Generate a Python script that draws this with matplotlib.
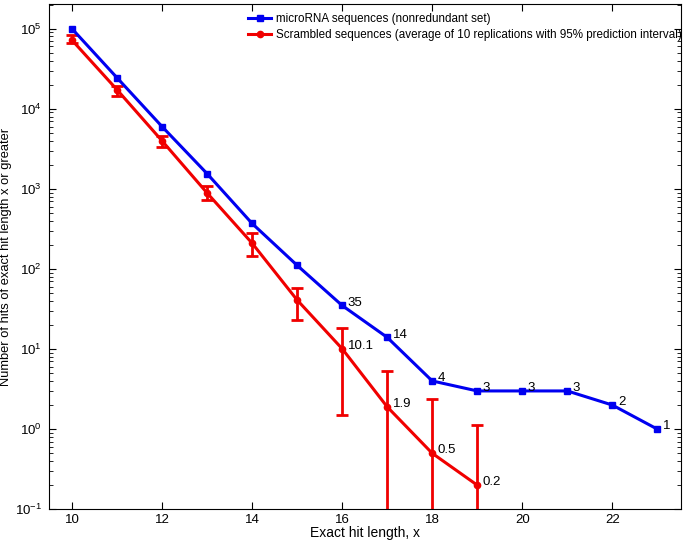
import numpy as np
import matplotlib
matplotlib.use('Agg')
import matplotlib.pyplot as plt

plt.rcParams['font.family'] = ['Liberation Sans', 'DejaVu Sans']
plt.rcParams['mathtext.fontset'] = 'custom'
plt.rcParams['mathtext.rm'] = 'Liberation Sans'
plt.rcParams['mathtext.it'] = 'Liberation Sans'

# hit length x
x_mirna = [10, 11, 12, 13, 14, 15, 16, 17, 18, 19, 20, 21, 22, 23]
hits_mirna = [100000, 24400, 6000, 1550, 370, 111, 35, 14, 4, 3, 3, 3, 2, 1]
labels_mirna = ['35', '14', '4', '3', '3', '3', '2', '1']  # from x=16 on

x_scr = [10, 11, 12, 13, 14, 15, 16, 17, 18, 19]
hits_scr = [72000, 17300, 3980, 890, 210, 41, 10.1, 1.9, 0.5, 0.2]
scr_low = [67000, 14600, 3350, 725, 145, 23, 1.5, 0.01, 0.01, 0.01]
scr_high = [84000, 19500, 4600, 1100, 280, 58, 18.5, 5.3, 2.4, 1.12]
labels_scr = ['10.1', '1.9', '0.5', '0.2']  # from x=16 on

fig = plt.figure(figsize=(6.85, 5.47), dpi=100)
ax = fig.add_axes([0.0715, 0.069, 0.923, 0.924])

blue = '#0000f0'
red = '#f00000'

ax.plot(x_mirna, hits_mirna, '-s', color=blue, lw=2.2, ms=4.5,
        label='microRNA sequences (nonredundant set)', zorder=3)

yerr = [np.array(hits_scr) - np.array(scr_low), np.array(scr_high) - np.array(hits_scr)]
ax.errorbar(x_scr, hits_scr, yerr=yerr, fmt='none', ecolor=red,
            elinewidth=2, capsize=4, capthick=2, zorder=2)
ax.plot(x_scr, hits_scr, '-o', color=red, lw=2.2, ms=4.5, zorder=2,
        label='Scrambled sequences (average of 10 replications with 95% prediction interval)')

for xi, yi, t in zip(x_mirna[6:], hits_mirna[6:], labels_mirna):
    ax.annotate(t, (xi, yi), xytext=(4, 2), textcoords='offset points',
                ha='left', va='center', fontsize=9.5)
for xi, yi, t in zip(x_scr[6:], hits_scr[6:], labels_scr):
    ax.annotate(t, (xi, yi), xytext=(4, 2), textcoords='offset points',
                ha='left', va='center', fontsize=9.5)

ax.set_yscale('log')
ax.set_ylim(0.1, 10 ** 5.31)
ax.set_xlim(9.49, 23.53)
ax.set_xticks([10, 12, 14, 16, 18, 20, 22])
ax.tick_params(which='both', direction='in', top=True, right=True, labelsize=9.5)
ax.tick_params(which='major', length=5)
ax.tick_params(which='minor', length=3)
ax.tick_params(axis='x', which='minor', bottom=False, top=False)
ax.tick_params(axis='y', which='major', pad=5)

ax.set_xlabel('Exact hit length, x', fontsize=10, labelpad=0)
ax.set_ylabel('Number of hits of exact hit length x or greater', fontsize=9.3)
ax.yaxis.set_label_coords(-0.059, 0.5)

ax.legend(loc='upper left', bbox_to_anchor=(0.302, 0.998), frameon=False,
          fontsize=8.4, handlelength=2.0, handletextpad=0.4, borderaxespad=0.3,
          labelspacing=0.35)

fig.savefig('out.png', dpi=100)
